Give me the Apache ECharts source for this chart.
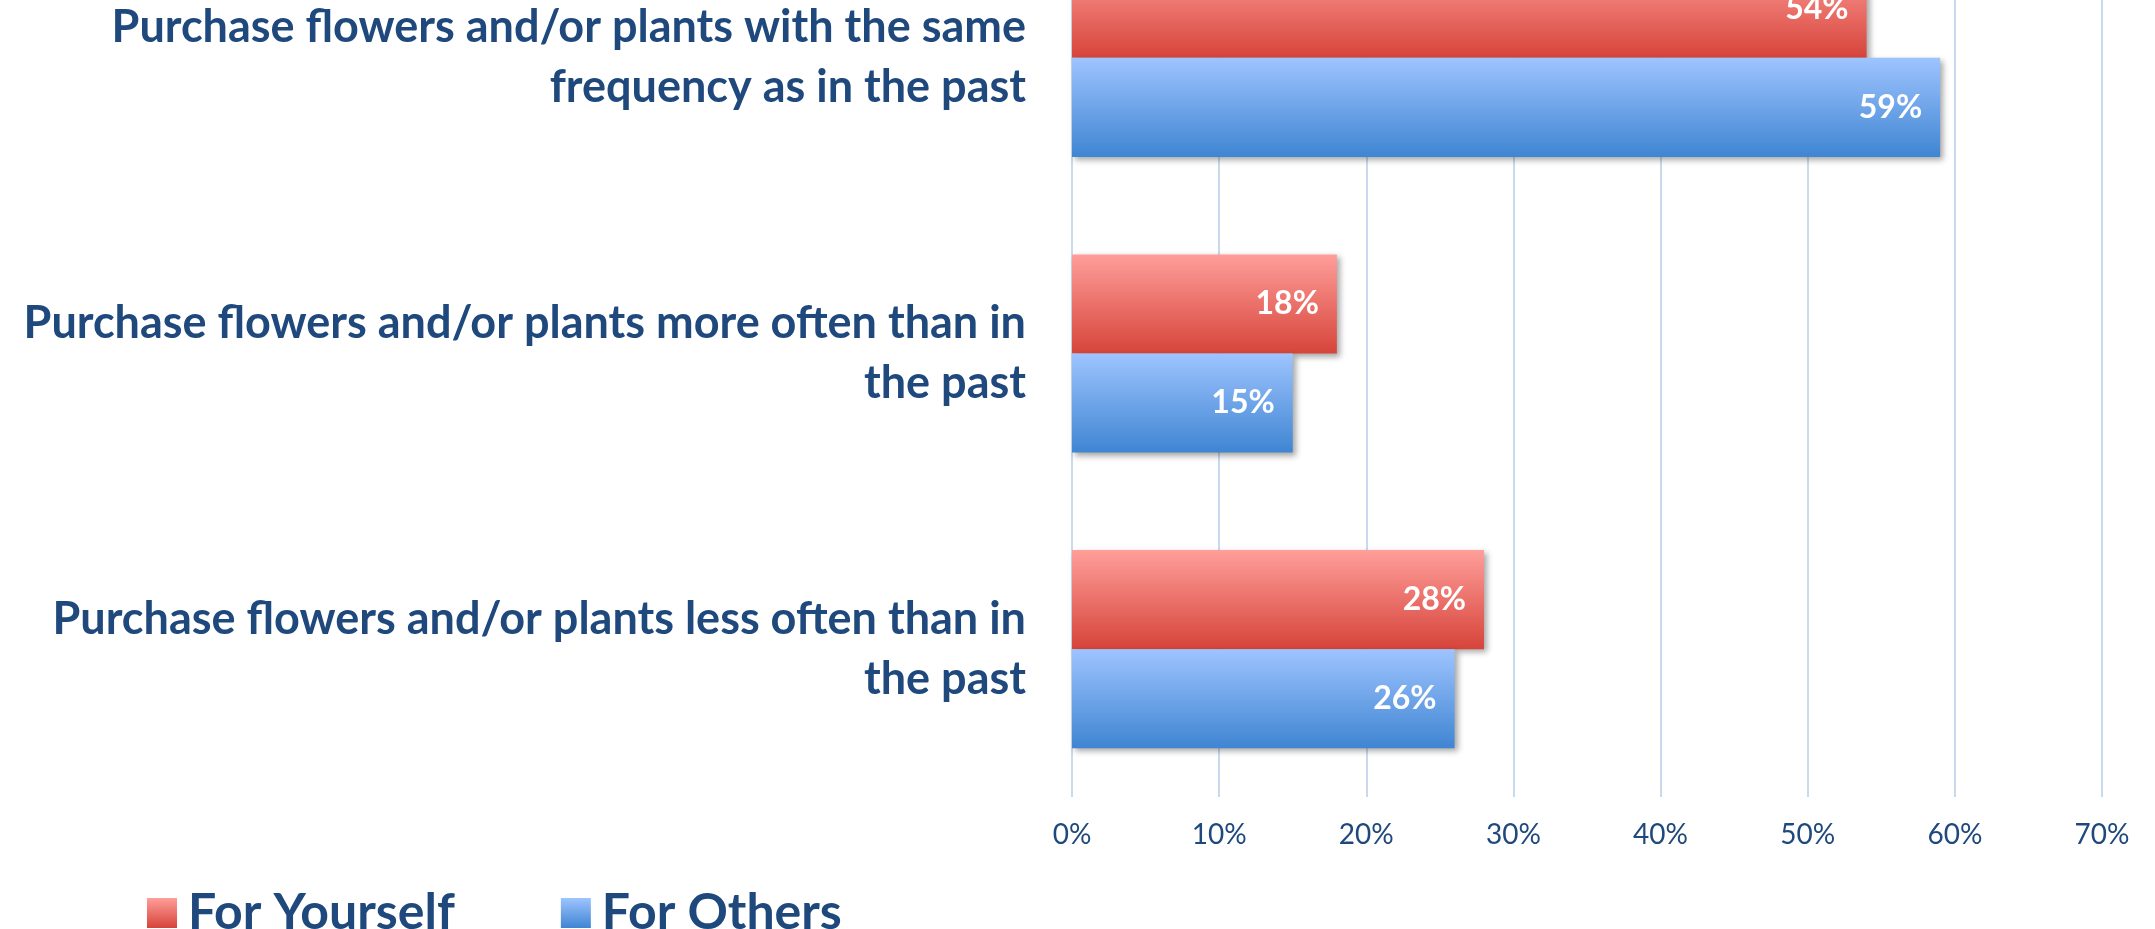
<!DOCTYPE html>
<html>
<head>
<meta charset="utf-8">
<script src="https://cdn.jsdelivr.net/npm/echarts@6/dist/echarts.min.js"></script>
<style>
html, body { margin: 0; padding: 0; background: #fff; }
#main { width: 2155px; height: 929px; }
</style>
</head>
<body>
<div id="main"></div>
<script>
// top to bottom, as in the picture
var categories = [
    'Purchase flowers and/or plants with the same\nfrequency as in the past',
    'Purchase flowers and/or plants more often than in\nthe past',
    'Purchase flowers and/or plants less often than in\nthe past'
];
var seriesNames = ['For Yourself', 'For Others'];
var yourselfValues = [54, 18, 28];
var othersValues = [59, 15, 26];
var xTicks = [0, 10, 20, 30, 40, 50, 60, 70];

window.onload = function () {
    var chart = echarts.init(document.getElementById('main'));
    var textColor = '#1f497d';

    function grad(top, bottom) {
        return new echarts.graphic.LinearGradient(0, 0, 0, 1, [
            { offset: 0, color: top },
            { offset: 1, color: bottom }
        ]);
    }

    var barLabel = {
        show: true,
        position: 'insideRight',
        distance: 18,
        color: '#fff',
        fontFamily: 'Lato',
        fontWeight: 'bold',
        fontSize: 32,
        formatter: '{c}%'
    };
    var shadow = {
        shadowColor: 'rgba(0,0,0,0.35)',
        shadowBlur: 6,
        shadowOffsetX: 3,
        shadowOffsetY: 3
    };

    var option = {
        animation: false,
        backgroundColor: '#fff',
        legend: {
            left: 142,
            top: 880,
            itemWidth: 30,
            itemHeight: 30,
            itemGap: 106,
            icon: 'rect',
            textStyle: {
                color: textColor,
                fontFamily: 'Lato',
                fontWeight: 'bold',
                fontSize: 50,
                lineHeight: 56,
                padding: [0, 0, 0, 6]
            },
            data: seriesNames
        },
        grid: {
            left: 1072,
            right: 2155 - 2102,
            top: -90,
            bottom: 929 - 797,
            outerBoundsMode: 'none',
            containLabel: false
        },
        xAxis: {
            type: 'value',
            min: xTicks[0],
            max: xTicks[xTicks.length - 1],
            interval: 10,
            axisLine: { show: false },
            axisTick: { show: false },
            splitLine: { show: true, lineStyle: { color: '#c9daee', width: 2 } },
            axisLabel: {
                formatter: '{value}%',
                color: textColor,
                fontFamily: 'Lato',
                fontSize: 28,
                margin: 24
            }
        },
        yAxis: {
            type: 'category',
            inverse: true,
            data: categories,
            axisLine: { show: false },
            axisTick: { show: false },
            axisLabel: {
                color: textColor,
                fontFamily: 'Lato',
                fontWeight: 'bold',
                fontSize: 45,
                lineHeight: 60,
                align: 'right',
                margin: 46
            }
        },
        series: [{
            name: seriesNames[0],
            type: 'bar',
            data: yourselfValues,
            barGap: '0%',
            barCategoryGap: '33%',
            itemStyle: Object.assign({ color: grad('#ff9e9a', '#d6443a') }, shadow),
            label: barLabel
        }, {
            name: seriesNames[1],
            type: 'bar',
            data: othersValues,
            barGap: '0%',
            barCategoryGap: '33%',
            itemStyle: Object.assign({ color: grad('#9ec4ff', '#3f85d2') }, shadow),
            label: barLabel
        }]
    };
    chart.setOption(option);
};
</script>
</body>
</html>
